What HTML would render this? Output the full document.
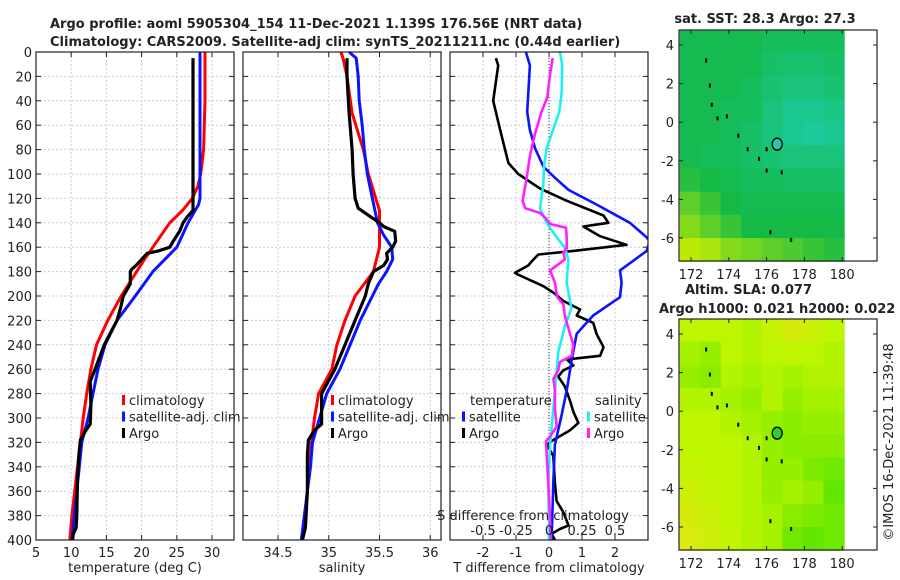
<!DOCTYPE html>
<html><head><meta charset="utf-8"><style>
html,body{margin:0;padding:0;background:#fff;}
svg{display:block;font-family:"DejaVu Sans","Liberation Sans",sans-serif;}
</style></head><body>
<svg id="c" width="900" height="580" viewBox="0 0 900 580" xmlns="http://www.w3.org/2000/svg"></svg>
<script>
// ---------- data ----------
const depthClimT=[0,20,40,60,80,100,110,120,130,140,150,160,170,180,190,200,220,240,260,280,300,320,340,360,380,400];
const climT=[29.0,29.0,29.0,28.9,28.8,28.4,28.0,27.2,25.8,24.0,22.8,21.6,20.4,19.3,18.2,17.1,15.2,13.6,12.8,12.2,11.7,11.3,10.9,10.5,10.1,9.8];
const depthSatT=[0,20,60,100,120,125,140,160,180,200,220,240,260,280,300,320,360,400];
const satT=[28.3,28.3,28.3,28.3,28.3,28.1,26.6,25.0,21.6,19.1,16.5,14.8,13.8,13.1,12.4,11.5,10.8,10.1];
const depthArgoT=[5,130,135,140,147,155,160,163,165,170,175,178,180,190,195,200,210,220,240,260,270,290,305,310,318,330,350,380,390,395,400];
const argoT=[27.3,27.3,26.5,25.9,25.4,24.5,24.0,22.4,20.8,20.0,19.2,18.6,18.4,18.4,17.9,17.4,17.0,16.5,14.7,13.4,12.7,12.8,12.7,12.1,11.3,11.1,10.9,10.8,10.7,10.3,10.2];
const depthClimS=[0,5,20,50,80,100,130,150,160,180,200,220,240,260,280,300,320,340,360,400];
const climS=[35.12,35.14,35.18,35.23,35.34,35.39,35.50,35.50,35.50,35.44,35.26,35.16,35.08,35.03,34.90,34.86,34.83,34.81,34.79,34.74];
const depthSatS=[0,5,20,40,60,80,100,120,140,150,160,170,180,190,200,220,240,260,280,300,320,340,360,400];
const satS=[35.20,35.27,35.29,35.30,35.33,35.35,35.38,35.43,35.48,35.54,35.62,35.63,35.57,35.49,35.43,35.31,35.21,35.11,34.98,34.91,34.84,34.82,34.79,34.73];
const depthArgoS=[5,20,50,80,100,120,128,135,140,143,147,155,160,165,170,175,180,190,200,210,220,240,260,280,295,305,310,318,330,360,390,400];
const argoS=[35.18,35.18,35.20,35.23,35.24,35.26,35.29,35.41,35.50,35.54,35.65,35.66,35.63,35.57,35.58,35.54,35.44,35.39,35.36,35.31,35.26,35.16,35.06,34.93,34.93,34.93,34.86,34.80,34.79,34.79,34.77,34.74];
const depthArgoTd=[5,11,40,64,91,100,112,122,134,140,143,151,158,163,166,170,175,181,182,192,198,204,211,216,222,231,242,249,252,257,261,266,274,286,295,304,310,318,322,331,353,368,377,388,391,395,400];
const argoTd=[-1.61,-1.54,-1.69,-1.48,-1.23,-0.93,-0.27,0.54,1.65,1.80,1.04,1.55,2.35,0.74,-0.32,-0.47,-0.63,-1.03,-0.98,-0.17,0.18,0.43,0.94,0.84,1.34,1.44,1.65,1.55,0.54,0.74,0.43,0.28,0.48,0.64,0.74,0.89,0.64,0.13,-0.07,0.13,0.18,0.23,0.43,0.59,0.33,0.08,0.18];
const depthSatTd=[0,11,49,64,79,94,103,113,125,140,152,155,163,179,189,201,216,231,252,277,298,322,353,400];
const satTd=[-0.70,-0.58,-0.66,-0.58,-0.42,-0.17,0.18,0.59,1.44,2.45,2.96,3.05,2.96,2.15,2.20,2.15,1.34,0.84,0.69,0.54,0.38,0.18,0.13,0.08];
const depthSatSd=[0,11,33,49,79,94,109,128,140,152,160,170,189,210,225,246,261,292,322,353,400];
const satSd=[0.083,0.10,0.096,0.078,-0.018,-0.038,-0.043,-0.068,-0.018,0.058,0.12,0.146,0.134,0.17,0.12,0.07,0.058,0.033,0.008,-0.005,0.0];
const depthArgoSd=[5,18,37,49,67,85,103,122,128,132,137,141,144,152,161,164,170,179,189,201,207,216,231,240,249,254,261,268,277,292,307,315,319,328,353,383,400];
const argoSd=[0.028,0.008,-0.013,-0.056,-0.106,-0.144,-0.169,-0.20,-0.18,-0.068,-0.018,0.008,0.129,0.134,0.134,0.109,0.12,0.008,0.045,0.063,0.109,0.12,0.159,0.184,0.172,0.083,0.07,0.033,0.045,0.045,0.058,0.008,-0.023,-0.018,-0.005,0.008,0.013];
const depthTicks=[0,20,40,60,80,100,120,140,160,180,200,220,240,260,280,300,320,340,360,380,400];
const tTicks=[5,10,15,20,25,30];
const sTicks=[34.5,35,35.5,36];
const tdTicks=[-2,-1,0,1,2];
const sdTicks=[-0.5,-0.25,0,0.25,0.5];
const sdTickLabels=["-0.5","-0.25","0","0.25","0.5"];
const latTicks=[4,2,0,-2,-4,-6];
const lonTicks=[172,174,176,178,180];
const sstGrid=[
[0.45,0.45,0.45,0.45,0.40,0.40,0.40,0.40],
[0.45,0.45,0.45,0.45,0.35,0.30,0.30,0.35],
[0.45,0.45,0.45,0.40,0.30,0.25,0.25,0.30],
[0.45,0.45,0.40,0.40,0.25,0.15,0.15,0.20],
[0.45,0.45,0.40,0.35,0.25,0.15,0.10,0.15],
[0.45,0.40,0.40,0.35,0.30,0.25,0.25,0.25],
[0.55,0.50,0.45,0.40,0.40,0.35,0.35,0.35],
[0.70,0.60,0.50,0.45,0.45,0.45,0.45,0.45],
[0.80,0.70,0.60,0.50,0.50,0.50,0.50,0.50],
[0.95,0.90,0.80,0.75,0.70,0.65,0.60,0.55]];
const slaGrid=[
[0.50,0.50,0.50,0.45,0.55,0.70,0.60,0.50],
[0.40,0.35,0.50,0.45,0.50,0.50,0.50,0.45],
[0.35,0.30,0.45,0.40,0.45,0.40,0.45,0.45],
[0.45,0.45,0.40,0.35,0.45,0.35,0.40,0.40],
[0.50,0.50,0.45,0.40,0.35,0.30,0.35,0.35],
[0.50,0.50,0.50,0.45,0.35,0.30,0.30,0.30],
[0.55,0.50,0.50,0.45,0.35,0.35,0.25,0.20],
[0.60,0.55,0.50,0.45,0.35,0.40,0.35,0.15],
[0.70,0.60,0.50,0.45,0.40,0.30,0.25,0.20],
[0.75,0.65,0.55,0.45,0.40,0.20,0.15,0.20]];
const islandLon=[172.8,173.0,173.1,173.4,173.9,174.5,175.0,176.0,175.6,176.8,176.0,176.2,177.3];
const islandLat=[3.2,1.9,0.9,0.2,0.3,-0.7,-1.4,-1.4,-1.9,-2.6,-2.5,-5.7,-6.1];
const argoLon=176.56, argoLat=-1.139;

// ---------- helpers ----------
const svg=document.getElementById('c');
const NS="http://www.w3.org/2000/svg";
function mk(tag,attrs,parent){const e=document.createElementNS(NS,tag);for(const k in attrs)e.setAttribute(k,attrs[k]);(parent||svg).appendChild(e);return e;}
function txt(s,x,y,size,anchor,weight,parent){const t=mk('text',{x:x,y:y,'font-size':size,'text-anchor':anchor||'start','font-weight':weight||'normal',fill:'#222'},parent);t.textContent=s;return t;}
const TOP=52,BOT=540;
const yD=d=>TOP+(d/400)*(BOT-TOP);

function panel(name,x0,x1,xs,ticks,labels,depthLabels){
  const g=mk('g',{});
  
  
  depthTicks.forEach(d=>{const y=yD(d);mk('line',{x1:x0,x2:x1,y1:y,y2:y,stroke:'#c6cbe6','stroke-width':1,'stroke-dasharray':'2,2'},g);
    mk('line',{x1:x0,x2:x0+5,y1:y,y2:y,stroke:'#222'},g);mk('line',{x1:x1-5,x2:x1,y1:y,y2:y,stroke:'#222'},g);
    if(depthLabels){const t=txt(String(d),x0-4,y+5,13,'end','normal',g);}});
  ticks.forEach((v,i)=>{const x=xs(v);mk('line',{x1:x,x2:x,y1:TOP,y2:BOT,stroke:'#c6cbe6','stroke-width':1,'stroke-dasharray':'2,2'},g);
    mk('line',{x1:x,x2:x,y1:BOT-5,y2:BOT,stroke:'#222'},g);mk('line',{x1:x,x2:x,y1:TOP,y2:TOP+5,stroke:'#222'},g);
    const t=txt(labels[i],x,BOT+17,13,'middle','normal',g);});
  return g;
}
function frame(x0,x1,g){mk('rect',{x:x0,y:TOP,width:x1-x0,height:BOT-TOP,fill:'none',stroke:'#222','stroke-width':1.2},g);}
function line(xs,vals,depths,color,w,name,g,clip){
  const p=vals.map((v,i)=>xs(v).toFixed(1)+','+yD(depths[i]).toFixed(1)).join(' ');
  const el=mk('polyline',{points:p,fill:'none',stroke:color,'stroke-width':w,'stroke-linejoin':'round'},g);
  if(clip)el.setAttribute('clip-path','url(#'+clip+')');
  
  
}
const defs=mk('defs',{});
const cp=mk('clipPath',{id:'clip3'},defs);mk('rect',{x:450,y:TOP,width:198,height:BOT-TOP},cp);

// titles
let t=txt('Argo profile: aoml 5905304_154 11-Dec-2021 1.139S 176.56E (NRT data)',50,28,13,'start','bold');

t=txt('Climatology: CARS2009. Satellite-adj clim: synTS_20211211.nc (0.44d earlier)',50,46,13,'start','bold');


// Panel 1 temperature
const xT=v=>36+(v-5)*7.04;
const g1=panel('temperature-panel',36,234,xT,tTicks,tTicks.map(String),true);
line(xT,climT,depthClimT,'#ff0000',3,'climatology-temperature-line',g1);
line(xT,satT,depthSatT,'#0a14ff',3,'satellite-temperature-line',g1);
line(xT,argoT,depthArgoT,'#000',3.2,'argo-temperature-line',g1);
frame(36,234,g1);
t=txt('temperature (deg C)',135,572,13,'middle','normal');

// Panel 2 salinity
const xS=v=>278+(v-34.5)*101.5;
const g2=panel('salinity-panel',243,441,xS,sTicks,sTicks.map(String),false);
line(xS,climS,depthClimS,'#ff0000',3,'climatology-salinity-line',g2);
line(xS,satS,depthSatS,'#0a14ff',3,'satellite-salinity-line',g2);
line(xS,argoS,depthArgoS,'#000',3.2,'argo-salinity-line',g2);
frame(243,441,g2);
t=txt('salinity',342,572,13,'middle','normal');

// legends 1&2
function legend(x,y,color,label,name){const g=mk('g',{});
  mk('rect',{x:x,y:y-10,width:3,height:10,fill:color},g);txt(label,x+7,y,13,'start','normal',g);}
[[122,'climatology','#ff0000'],[122,'satellite-adj. clim','#0a14ff'],[122,'Argo','#000']].forEach((l,i)=>legend(l[0],405+i*16.5,l[2],l[1],'temp-legend-'+i));
[[331,'climatology','#ff0000'],[331,'satellite-adj. clim','#0a14ff'],[331,'Argo','#000']].forEach((l,i)=>legend(l[0],405+i*16.5,l[2],l[1],'sal-legend-'+i));

// Panel 3 differences
const xTd=v=>549+v*33;
const xSd=v=>549+v*132;
const g3=panel('difference-panel',450,648,xTd,tdTicks,tdTicks.map(String),false);
mk('line',{x1:549,x2:549,y1:TOP,y2:BOT,stroke:'#333','stroke-width':1,'stroke-dasharray':'1,2'},g3);
line(xTd,argoTd,depthArgoTd,'#000',2.6,'argo-temperature-difference-line',g3,'clip3');
line(xTd,satTd,depthSatTd,'#0a14ff',2.6,'satellite-temperature-difference-line',g3,'clip3');
line(xSd,satSd,depthSatSd,'#20f0f0',2.6,'satellite-salinity-difference-line',g3,'clip3');
line(xSd,argoSd,depthArgoSd,'#ff20ff',2.6,'argo-salinity-difference-line',g3,'clip3');
frame(450,648,g3);
t=txt('S difference from climatology',533,520,13,'middle','normal');
sdTicks.forEach((v,i)=>{const s=txt(sdTickLabels[i],xSd(v),535,13,'middle','normal');});
t=txt('T difference from climatology',549,572,13,'middle','normal');
t=txt('temperature',470,405,13,'start','normal');
t=txt('salinity',595,405,13,'start','normal');
legend(462,421.5,'#0a14ff','satellite','legend-temp-satellite');
legend(462,438,'#000','Argo','legend-temp-argo');
legend(587,421.5,'#20f0f0','satellite','legend-sal-satellite');
legend(587,438,'#ff20ff','Argo','legend-sal-argo');

// Maps
function lerp(a,b,f){return a.map((v,i)=>Math.round(v+(b[i]-v)*f));}
function cmap(stops,v){if(v<=0.5)return lerp(stops[0],stops[1],v/0.5);return lerp(stops[1],stops[2],(v-0.5)/0.5);}
const sstStops=[[30,205,175],[20,185,70],[205,240,0]];
const slaStops=[[60,225,0],[190,245,0],[245,220,30]];
function map(name,fy,grid,stops,dotFill,title){
  const g=mk('g',{});
  const fx0=679,fx1=877,fh=231;
  const lonX=lon=>691+(lon-172)*18.9;
  const latY=lat=>fy+15+(4-lat)*19.3;
  const lonMin=171.4,lonMax=180.1,latMax=4.8,latMin=-7.2;
  const rows=grid.length,cols=grid[0].length;
  const dLon=(lonMax-lonMin)/cols,dLat=(latMax-latMin)/rows;
  grid.forEach((row,r)=>row.forEach((v,c)=>{const x0=lonX(lonMin+c*dLon),x1=lonX(lonMin+(c+1)*dLon),y0=latY(latMax-r*dLat),y1=latY(latMax-(r+1)*dLat);
    const col=cmap(stops,v);const cell=mk('rect',{x:x0.toFixed(1),y:y0.toFixed(1),width:(x1-x0+0.6).toFixed(1),height:(y1-y0+0.6).toFixed(1),fill:'rgb('+col.join(',')+')'},g);
    }));
  islandLon.forEach((lo,i)=>{const d=mk('rect',{x:lonX(lo)-1,y:latY(islandLat[i])-2,width:2,height:4,fill:'#000'},g);
    });
  const ci=mk('ellipse',{cx:lonX(argoLon),cy:latY(argoLat),rx:5,ry:6,fill:dotFill,stroke:'#000','stroke-width':1.3},g);
  
  mk('rect',{x:fx0,y:fy,width:fx1-fx0,height:fh,fill:'none',stroke:'#222','stroke-width':1.2},g);
  latTicks.forEach(l=>{const y=latY(l);mk('line',{x1:fx0,x2:fx0+4,y1:y,y2:y,stroke:'#222'},g);mk('line',{x1:fx1-4,x2:fx1,y1:y,y2:y,stroke:'#222'},g);
    const s=txt(String(l),674,y+5,13,'end','normal',g);});
  lonTicks.forEach(l=>{const x=lonX(l);mk('line',{x1:x,x2:x,y1:fy+fh-4,y2:fy+fh,stroke:'#222'},g);mk('line',{x1:x,x2:x,y1:fy,y2:fy+4,stroke:'#222'},g);
    const s=txt(String(l),x,fy+fh+18,13,'middle','normal',g);});
}
map('sst-map',30,sstGrid,sstStops,'#20c8b0');
map('sla-map',319,slaGrid,slaStops,'#30d020');
t=txt('sat. SST: 28.3 Argo: 27.3',765,23,13,'middle','bold');
t=txt('Altim. SLA: 0.077',685,294,13,'start','bold');
t=txt('Argo h1000: 0.021 h2000: 0.022',659,313,13,'start','bold');
t=txt('©IMOS 16-Dec-2021 11:39:48',0,0,13,'middle','normal');t.setAttribute('transform','translate(893,442) rotate(-90)');

</script>
</body></html>
